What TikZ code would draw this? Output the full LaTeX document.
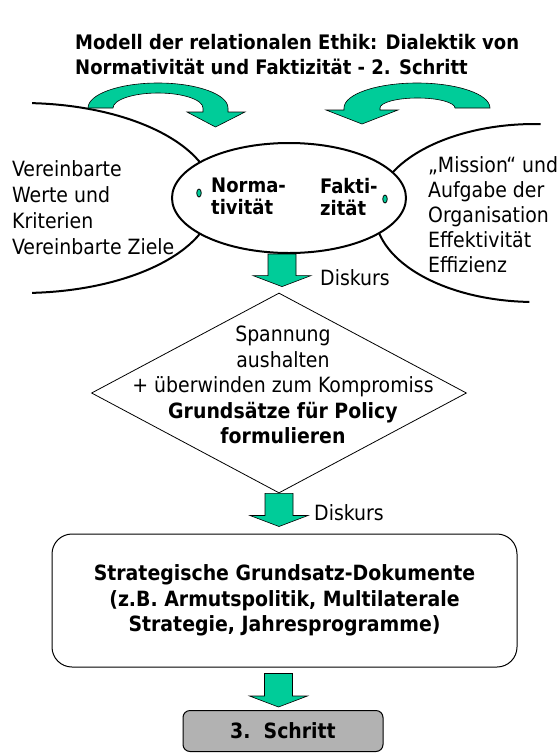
\documentclass[tikz,border=0pt]{standalone}
\usepackage{fontspec}
\setmainfont{DejaVu Sans Condensed}
\usetikzlibrary{shapes.geometric,calc}
\definecolor{mint}{RGB}{0,204,153}
\definecolor{boxgray}{RGB}{178,178,178}
\tikzset{
  txt/.style={inner sep=0pt, font=\fontsize{21}{26}\selectfont, align=left},
  bold/.style={inner sep=0pt, font=\fontsize{21}{25.5}\selectfont\bfseries, align=center},
  garr/.style={draw=black, line width=0.6pt, fill=mint},
  curve/.style={line width=2pt},
}
\newcommand{\blockarrow}[2]{%
  \draw[garr] let \p1=(#1), \p2=(#2) in
    (\x1-14pt,\y1) -- (\x1-14pt,\y2+11pt) -- (\x1-29pt,\y2+11pt) -- (\x1,\y2)
    -- (\x1+29pt,\y2+11pt) -- (\x1+14pt,\y2+11pt) -- (\x1+14pt,\y1) -- cycle;}
\begin{document}
\begin{tikzpicture}[x=1pt,y=-1pt]
\useasboundingbox (0,0) rectangle (560,753);
% Titel
\node[bold, align=left, anchor=north west, font=\fontsize{20}{25}\selectfont\bfseries] (title) at (75,34) {Modell der relationalen Ethik: Dialektik von\\Normativität und Faktizität - 2. Schritt};
% grosse Boegen
\draw[curve] (22,198) ++(-87:192 and 95) arc[start angle=-87, end angle=87, x radius=192, y radius=95];
\draw[curve] (535,213) ++(272:160 and 89) arc[start angle=272, end angle=92, x radius=160, y radius=89];
% gebogene Pfeile oben
\draw[garr] (88,108) arc[start angle=180, end angle=360, x radius=70, y radius=25] -- (228,112) -- (245,112) -- (215.5,127) -- (187,112) -- (203,112) -- (203,108) arc[start angle=0, end angle=-180, x radius=45, y radius=15] -- cycle;
\draw[garr] (490,108) arc[start angle=0, end angle=-180, x radius=73, y radius=25] -- (344,110) -- (326,110) -- (362,124) -- (398,110) -- (380,110) -- (380,108) arc[start angle=180, end angle=360, x radius=37.5, y radius=10] -- cycle;
% Ellipse
\node[ellipse, draw, line width=2pt, fill=white, minimum width=234, minimum height=110, inner sep=0] (ell) at (289,198) {};
\node[ellipse, draw, fill=mint, line width=0.8pt, minimum width=4.5, minimum height=8, inner sep=0] (dotN) at (199,193) {};
\node[ellipse, draw, fill=mint, line width=0.8pt, minimum width=4.5, minimum height=8, inner sep=0] (dotF) at (385,199) {};
\node[bold, align=left, anchor=north west, font=\fontsize{20}{22}\selectfont\bfseries] (norm) at (211,178) {Norma-\\tivität};
\node[bold, align=left, anchor=north west, font=\fontsize{20}{22}\selectfont\bfseries] (fakt) at (320,178) {Fakti-\\zität};
% Texte links und rechts
\node[txt, anchor=north west] (werte) at (12,160) {Vereinbarte\\Werte und\\Kriterien\\Vereinbarte Ziele};
\node[txt, anchor=north west, font=\fontsize{21}{25}\selectfont] (mission) at (428,156) {„Mission“ und\\Aufgabe der\\Organisation\\Effektivität\\Effizienz};
% Raute
\node[diamond, draw, line width=0.8pt, minimum width=375, minimum height=200, inner sep=0] (dia) at (279,393) {};
\node[inner sep=0, align=center, anchor=north, font=\fontsize{21}{25.5}\selectfont] (diatxt) at (283,326) {Spannung\\aushalten\\+ überwinden zum Kompromiss\\\textbf{Grundsätze für Policy}\\\textbf{formulieren}};
% Kasten
\node[draw, rounded corners=20, line width=1pt, minimum width=465, minimum height=133, inner sep=0, bold] (box) at (284.5,600.5) {Strategische Grundsatz-Dokumente\\(z.B. Armutspolitik, Multilaterale\\Strategie, Jahresprogramme)};
\node[draw, fill=boxgray, rounded corners=7, line width=1pt, minimum width=200, minimum height=41, bold] (step3) at (283,731) {3.\ \ Schritt};
% Blockpfeile
\coordinate (a1s) at ([xshift=-7]ell.south);
\coordinate (a1e) at ([yshift=6]dia.north);
\blockarrow{a1s}{a1e}
\node[txt, anchor=base west] (disk1) at (320,285) {Diskurs};
\coordinate (a2s) at (dia.south);
\coordinate (a2e) at ([yshift=7]box.north);
\blockarrow{a2s}{a2e}
\node[txt, anchor=base west] (disk2) at (314,520) {Diskurs};
\coordinate (a3s) at ([xshift=-6,yshift=-6]box.south);
\coordinate (a3e) at ([yshift=3]step3.north);
\blockarrow{a3s}{a3e}
\end{tikzpicture}
\end{document}
